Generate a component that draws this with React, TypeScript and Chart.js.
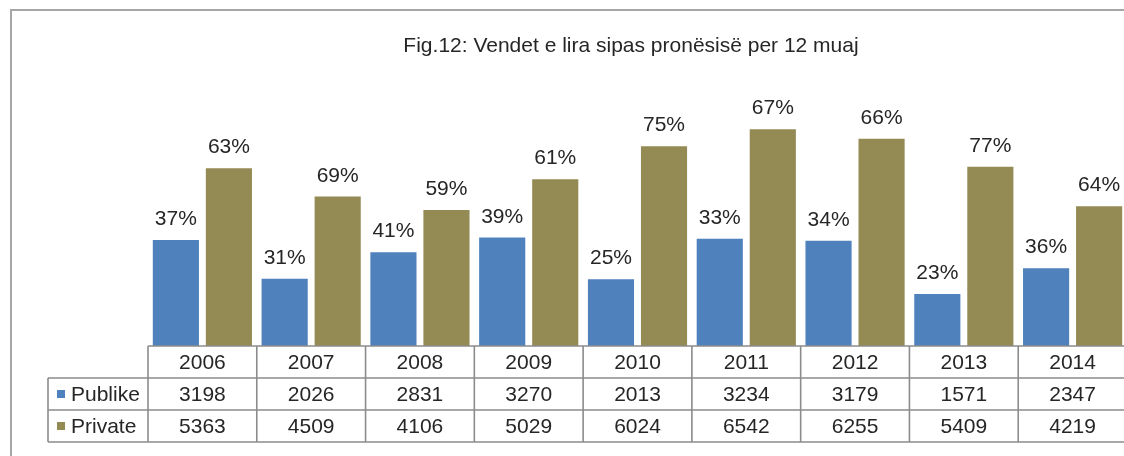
import React, { useEffect, useRef } from "react";
import { Chart, registerables } from "chart.js";

Chart.register(...registerables);

const TITLE = "Fig.12: Vendet e lira sipas pronësisë per 12 muaj";
const YEARS = ["2006", "2007", "2008", "2009", "2010", "2011", "2012", "2013", "2014"];
const PUBLIKE = [3198, 2026, 2831, 3270, 2013, 3234, 3179, 1571, 2347];
const PRIVATE = [5363, 4509, 4106, 5029, 6024, 6542, 6255, 5409, 4219];
const SERIES_NAMES = ["Publike", "Private"];
const COLORS = ["#4F81BD", "#948A54"];

const FONT = '"Liberation Sans", Arial, sans-serif';

const tablePlugin = {
  id: "tablePlugin",
  afterDraw(chart: any) {
    const ctx = chart.ctx as CanvasRenderingContext2D;
    const area = chart.chartArea;
    const x = chart.scales.x;
    const n = YEARS.length;
    const colW = (area.right - area.left) / n;
    const top = area.bottom;
    const rowH = 32;
    const legendLeft = 48;

    ctx.save();
    // outer frame
    ctx.strokeStyle = "#a6a6a6";
    ctx.lineWidth = 2;
    ctx.beginPath();
    ctx.moveTo(11, 460);
    ctx.lineTo(11, 10);
    ctx.lineTo(1200, 10);
    ctx.stroke();

    // title
    ctx.fillStyle = "#262626";
    ctx.font = `21px ${FONT}`;
    ctx.textAlign = "center";
    ctx.textBaseline = "alphabetic";
    ctx.fillText(TITLE, 631, 52);

    // percent labels above bars
    ctx.font = `21px ${FONT}`;
    chart.data.datasets.forEach((ds: any, di: number) => {
      const meta = chart.getDatasetMeta(di);
      meta.data.forEach((bar: any, i: number) => {
        const total = PUBLIKE[i] + PRIVATE[i];
        const pct = Math.round((ds.data[i] / total) * 100);
        ctx.fillText(pct + "%", bar.x, bar.y - 15);
      });
    });

    // table grid
    ctx.strokeStyle = "#8c8c8c";
    ctx.lineWidth = 1.6;
    ctx.beginPath();
    ctx.moveTo(area.left, top);
    ctx.lineTo(area.right + 20, top);
    for (let r = 1; r <= 3; r++) {
      ctx.moveTo(legendLeft, top + r * rowH);
      ctx.lineTo(area.right + 20, top + r * rowH);
    }
    ctx.moveTo(legendLeft, top + rowH);
    ctx.lineTo(legendLeft, top + 3 * rowH);
    for (let c = 0; c <= n; c++) {
      const cx = area.left + c * colW;
      ctx.moveTo(cx, top);
      ctx.lineTo(cx, top + 3 * rowH);
    }
    ctx.stroke();

    // table texts
    ctx.fillStyle = "#262626";
    ctx.font = `21px ${FONT}`;
    ctx.textAlign = "center";
    ctx.textBaseline = "middle";
    YEARS.forEach((y, i) => {
      const cx = x.getPixelForValue(i);
      ctx.fillText(y, cx, top + rowH * 0.5 + 1);
      ctx.fillText(String(PUBLIKE[i]), cx, top + rowH * 1.5 + 1);
      ctx.fillText(String(PRIVATE[i]), cx, top + rowH * 2.5 + 1);
    });

    // legend column
    ctx.textAlign = "left";
    SERIES_NAMES.forEach((name, si) => {
      const cy = top + rowH * (1.5 + si);
      ctx.fillStyle = COLORS[si];
      ctx.fillRect(57, cy - 4, 8, 8);
      ctx.fillStyle = "#262626";
      ctx.fillText(name, 71, cy + 1);
    });
    ctx.restore();
  },
};

export default function App() {
  const ref = useRef<HTMLCanvasElement>(null);
  useEffect(() => {
    document.body.style.overflow = "hidden";
    document.documentElement.style.overflow = "hidden";
    const chart = new Chart(ref.current!, {
      type: "bar",
      data: {
        labels: YEARS,
        datasets: [
          {
            label: SERIES_NAMES[0],
            data: PUBLIKE,
            backgroundColor: COLORS[0],
            categoryPercentage: 0.975,
            barPercentage: 0.87,
          },
          {
            label: SERIES_NAMES[1],
            data: PRIVATE,
            backgroundColor: COLORS[1],
            categoryPercentage: 0.975,
            barPercentage: 0.87,
          },
        ],
      },
      options: {
        animation: false,
        responsive: false,
        maintainAspectRatio: false,
        devicePixelRatio: 1,
        layout: { padding: { left: 148, right: 13, top: 114, bottom: 110 } },
        plugins: {
          legend: { display: false },
          title: { display: false },
          tooltip: { enabled: false },
        },
        scales: {
          x: { display: false, offset: true },
          y: { display: false, min: 0, max: 7000 },
        },
      },
      plugins: [tablePlugin],
    });
    return () => chart.destroy();
  }, []);
  return (
    <div style={{ position: "fixed", left: 0, top: 0, width: 1140, height: 456, background: "#fff" }}>
      <canvas ref={ref} width={1140} height={456} style={{ width: 1140, height: 456 }} />
    </div>
  );
}
